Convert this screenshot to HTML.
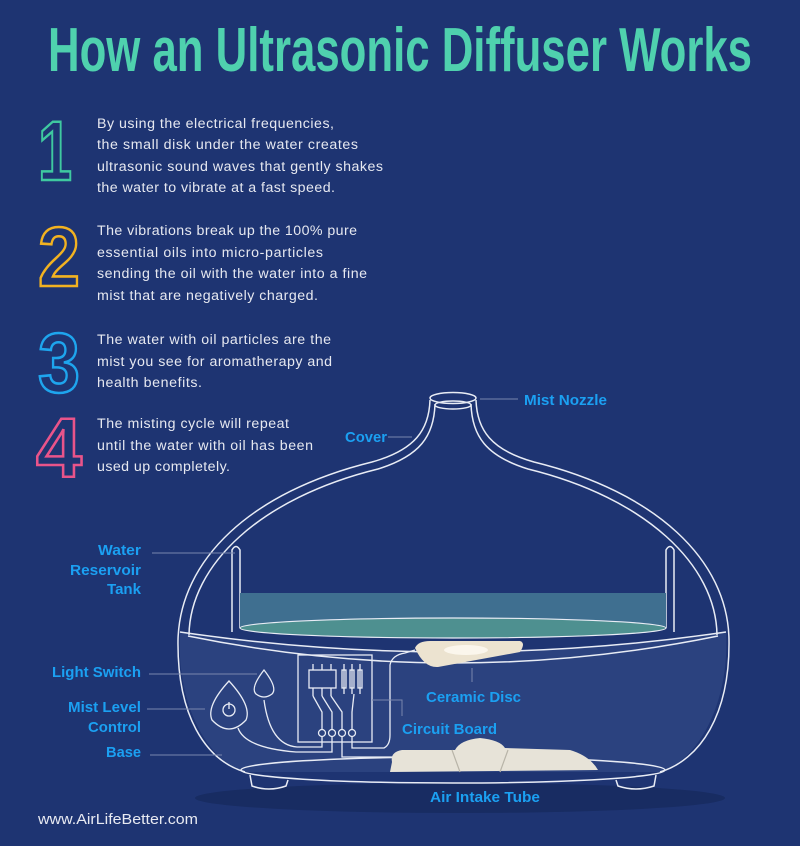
<!DOCTYPE html>
<html><head><meta charset="utf-8"><style>
html,body{margin:0;padding:0;background:#1e3472;}
svg{display:block}
</style></head><body>
<svg width="800" height="846" viewBox="0 0 800 846" xmlns="http://www.w3.org/2000/svg">
<rect width="800" height="846" fill="#1e3472"/>
<text x="400" y="71" text-anchor="middle" font-family="Liberation Sans Narrow, Liberation Sans, sans-serif" font-weight="bold" font-size="62" fill="#4fd1ae" textLength="704" lengthAdjust="spacingAndGlyphs">How an Ultrasonic Diffuser Works</text>

<g font-family="Liberation Sans, sans-serif" font-weight="bold" font-size="84" fill="none" stroke-width="2.6" lengthAdjust="spacingAndGlyphs">
<text x="38" y="180" stroke="#3fc9a0" textLength="34" lengthAdjust="spacingAndGlyphs">1</text>
<text x="38" y="286" stroke="#f2b221" textLength="42" lengthAdjust="spacingAndGlyphs">2</text>
<text x="38" y="392" stroke="#1ea5ee" textLength="42" lengthAdjust="spacingAndGlyphs">3</text>
<text x="36" y="477" stroke="#e9548a" textLength="46" lengthAdjust="spacingAndGlyphs">4</text>
</g>

<g font-family="Liberation Sans, sans-serif" font-size="14.2" fill="#e6e8f0">
<text x="97" y="128" textLength="237">By using the electrical frequencies,</text>
<text x="97" y="149" textLength="261">the small disk under the water creates</text>
<text x="97" y="171" textLength="286">ultrasonic sound waves that gently shakes</text>
<text x="97" y="192" textLength="238">the water to vibrate at a fast speed.</text>
<text x="97" y="235" textLength="260">The vibrations break up the 100% pure</text>
<text x="97" y="257" textLength="226">essential oils into micro-particles</text>
<text x="97" y="278" textLength="270">sending the oil with the water into a fine</text>
<text x="97" y="300" textLength="221">mist that are negatively charged.</text>
<text x="97" y="344" textLength="234">The water with oil particles are the</text>
<text x="97" y="366" textLength="235">mist you see for aromatherapy and</text>
<text x="97" y="387" textLength="105">health benefits.</text>
<text x="97" y="428" textLength="192">The misting cycle will repeat</text>
<text x="97" y="450" textLength="216">until the water with oil has been</text>
<text x="97" y="471" textLength="133">used up completely.</text>
</g>

<ellipse cx="460" cy="798" rx="265" ry="15" fill="#182c62"/>
<path d="M180,632 Q453,672 726,632 C730,700 700,760 660,772 L245,772 C205,760 176,700 180,632 Z" fill="#2b427f"/>
<g fill="none" stroke="#e8ecf5" stroke-width="1.5">
<path d="M430,400 C429,430 415,450 372,462 C250,492 180,560 178,640 C177,715 205,760 245,772"/>
<path d="M476,400 C477,430 491,450 534,462 C656,492 728,560 729,640 C730,715 700,760 660,772"/>
<path d="M435,404 C434,436 420,456 378,469 C260,498 190,565 189,635"/>
<path d="M471,404 C472,436 486,456 528,469 C646,498 716,565 717,635"/>
<ellipse cx="453" cy="398" rx="23" ry="5.5"/>
<ellipse cx="453" cy="405" rx="18" ry="4"/>
<path d="M180,632 Q453,672 726,632"/>
<path d="M188,636 Q453,690 718,636"/>
<path d="M232,632 L232,550 Q236,543 240,550 L240,628"/>
<path d="M674,632 L674,550 Q670,543 666,550 L666,628"/>
<ellipse cx="453" cy="770" rx="212" ry="13"/>
<path d="M250,775 L252,786 Q269,792 286,786 L288,780"/>
<path d="M616,780 L618,786 Q636,792 654,786 L656,775"/>
</g>
<rect x="240" y="593" width="426" height="35" fill="#3f6f90"/>
<ellipse cx="453" cy="628" rx="213" ry="10" fill="#4e9090" stroke="#e8ecf5" stroke-width="1.2"/>

<path d="M415,648 Q418,641 430,641 L520,641 Q526,643 520,652 L438,667 Q424,668 415,648 Z" fill="#ece3d0"/>
<ellipse cx="466" cy="650" rx="22" ry="5" fill="#fbf6ec"/>

<g fill="none" stroke="#e8ecf5" stroke-width="1.3">
<rect x="298" y="655" width="74" height="87"/>
<rect x="309" y="670" width="27" height="18"/>
<path d="M313,664v6 M322,664v6 M331,664v6 M313,688v8 M322,688v8 M331,688v8"/>
<rect x="342" y="670" width="4" height="18"/><rect x="350" y="670" width="4" height="18"/><rect x="358" y="670" width="4" height="18"/>
<path d="M344,664v30 M352,664v30 M360,664v30"/>
<path d="M313,696 L322,712 L322,729 M322,696 L332,712 L332,729 M331,696 L342,712 L342,729 M354,694 L352,712 L352,729"/>
<circle cx="322" cy="733" r="3.5"/><circle cx="332" cy="733" r="3.5"/><circle cx="342" cy="733" r="3.5"/><circle cx="352" cy="733" r="3.5"/>
<path d="M322,737 v10 L297,747 Q270,745 264,700"/>
<path d="M332,737 v15 L296,752 Q245,748 238,728"/>
<path d="M342,737 v20 L395,757"/>
<path d="M352,737 v11 L384,748 Q390,745 390,735 L390,665 Q392,655 405,653 L415,650"/>
<path d="M264,670 Q250,688 256,694 Q264,700 272,694 Q278,688 264,670 Z"/>
<path d="M229,681 Q206,706 212,720 Q229,738 246,720 Q252,706 229,681 Z"/>
<circle cx="229" cy="710" r="6"/><path d="M229,702 v7"/>
</g>

<path d="M392,762 Q390,752 402,750 L455,750 Q460,740 480,738 Q500,740 505,748 L570,750 Q590,756 598,770 L390,772 Z" fill="#e7e3d8"/>
<path d="M452,750 L460,772 M508,750 L500,772" stroke="#b8b4a8" stroke-width="1.2" fill="none"/>

<g stroke="#7886ad" stroke-width="1" fill="none">
<path d="M152,553 H235"/><path d="M149,674 H257"/><path d="M147,709 H205"/><path d="M150,755 H222"/>
<path d="M388,437 H412"/><path d="M480,399 H518"/><path d="M472,668 V682"/><path d="M372,700 H402 V716"/>
</g>

<g font-family="Liberation Sans, sans-serif" font-weight="bold" font-size="15" fill="#1ba0f2" lengthAdjust="spacingAndGlyphs">
<text x="141" y="555" text-anchor="end" textLength="43" lengthAdjust="spacingAndGlyphs">Water</text>
<text x="141" y="575" text-anchor="end" textLength="71" lengthAdjust="spacingAndGlyphs">Reservoir</text>
<text x="141" y="594" text-anchor="end" textLength="34" lengthAdjust="spacingAndGlyphs">Tank</text>
<text x="141" y="677" text-anchor="end" textLength="89" lengthAdjust="spacingAndGlyphs">Light Switch</text>
<text x="141" y="712" text-anchor="end" textLength="73" lengthAdjust="spacingAndGlyphs">Mist Level</text>
<text x="141" y="732" text-anchor="end" textLength="53" lengthAdjust="spacingAndGlyphs">Control</text>
<text x="141" y="757" text-anchor="end" textLength="35" lengthAdjust="spacingAndGlyphs">Base</text>
<text x="426" y="702" textLength="95" lengthAdjust="spacingAndGlyphs">Ceramic Disc</text>
<text x="402" y="734" textLength="95" lengthAdjust="spacingAndGlyphs">Circuit Board</text>
<text x="430" y="802" textLength="110" lengthAdjust="spacingAndGlyphs">Air Intake Tube</text>
<text x="345" y="442" textLength="42" lengthAdjust="spacingAndGlyphs">Cover</text>
<text x="524" y="405" textLength="83" lengthAdjust="spacingAndGlyphs">Mist Nozzle</text>
</g>
<text x="38" y="824" font-family="Liberation Sans, sans-serif" font-size="15" fill="#e8eaf2" textLength="160" lengthAdjust="spacingAndGlyphs">www.AirLifeBetter.com</text>
</svg>
</body></html>
